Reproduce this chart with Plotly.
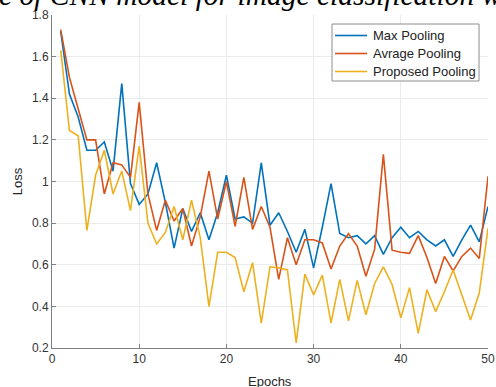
import plotly.graph_objects as go

epochs = list(range(1, 51))

max_pooling = [1.72, 1.42, 1.31, 1.15, 1.15, 1.19, 1.05, 1.47, 0.99, 0.89,
               0.94, 1.09, 0.90, 0.68, 0.87, 0.76, 0.85, 0.72, 0.85, 1.03,
               0.82, 0.83, 0.80, 1.09, 0.79, 0.85, 0.76, 0.66, 0.77, 0.585,
               0.78, 0.99, 0.75, 0.73, 0.74, 0.70, 0.74, 0.65, 0.73, 0.78,
               0.73, 0.76, 0.72, 0.69, 0.72, 0.64, 0.72, 0.79, 0.71, 0.88]

avg_pooling = [1.73, 1.50, 1.35, 1.20, 1.20, 0.94, 1.09, 1.08, 1.02, 1.38,
               0.94, 0.765, 0.91, 0.81, 0.87, 0.69, 0.83, 1.05, 0.82, 1.00,
               0.785, 1.02, 0.77, 0.88, 0.78, 0.53, 0.73, 0.60, 0.72, 0.72,
               0.705, 0.58, 0.69, 0.75, 0.69, 0.545, 0.675, 1.13, 0.67, 0.66,
               0.655, 0.74, 0.635, 0.51, 0.64, 0.57, 0.64, 0.68, 0.63, 1.025]

proposed_pooling = [1.63, 1.245, 1.22, 0.765, 1.03, 1.15, 0.94, 1.05, 0.86, 1.17,
                    0.80, 0.70, 0.755, 0.88, 0.72, 0.91, 0.73, 0.40, 0.66, 0.66,
                    0.635, 0.47, 0.61, 0.32, 0.59, 0.585, 0.575, 0.225, 0.555, 0.455,
                    0.55, 0.32, 0.53, 0.33, 0.525, 0.36, 0.51, 0.59, 0.505, 0.345,
                    0.49, 0.27, 0.48, 0.375, 0.47, 0.575, 0.455, 0.335, 0.465, 0.775]

series_names = ["Max Pooling", "Avrage Pooling", "Proposed Pooling"]
series_colors = ["#0072BD", "#D95319", "#EDB120"]

y_ticks = [0.2, 0.4, 0.6, 0.8, 1.0, 1.2, 1.4, 1.6, 1.8]
y_tick_labels = ["0.2", "0.4", "0.6", "0.8", "1", "1.2", "1.4", "1.6", "1.8"]
x_ticks = [0, 10, 20, 30, 40, 50]

title_text = "e of CNN model for image classification w"

W, H = 496, 387
ML, MR, MT, MB = 52, 8, 15, 39
PW, PH = W - ML - MR, H - MT - MB


def px_x(p):
    return (p - ML) / PW


def px_y(p):
    return (H - MB - p) / PH


fig = go.Figure()
for name, vals, col in zip(series_names, [max_pooling, avg_pooling, proposed_pooling], series_colors):
    fig.add_trace(go.Scatter(x=epochs, y=vals, mode="lines", name=name,
                             line=dict(color=col, width=1.6), showlegend=False,
                             hoverinfo="skip"))

axis_font = dict(family="Liberation Sans, Arial, sans-serif", size=12, color="#333333")
sans = "Liberation Sans, Arial, sans-serif"

shapes = [dict(type="rect", xref="paper", yref="paper",
               x0=px_x(332), x1=px_x(479), y0=px_y(81), y1=px_y(24),
               line=dict(color="#8c8c8c", width=1), fillcolor="white", layer="above")]
annotations = [
    dict(text="Epochs", xref="paper", yref="paper", x=0.5, y=px_y(381.5),
         xanchor="center", yanchor="middle", showarrow=False,
         font=dict(family=sans, size=13, color="#262626")),
    dict(text="Loss", xref="paper", yref="paper", x=px_x(17.7), y=0.5,
         xanchor="center", yanchor="middle", showarrow=False, textangle=-90,
         font=dict(family=sans, size=13, color="#262626")),
    dict(text="<i>" + title_text + "</i>", xref="paper", yref="paper", x=px_x(250), y=1.0,
         xanchor="center", yanchor="bottom", yshift=2, showarrow=False,
         font=dict(family="Liberation Serif, Times New Roman, serif", size=29.5, color="#000000")),
]
for i, (name, col) in enumerate(zip(series_names, series_colors)):
    yc = 35.5 + 18 * i
    shapes.append(dict(type="line", xref="paper", yref="paper",
                       x0=px_x(335), x1=px_x(367), y0=px_y(yc), y1=px_y(yc),
                       line=dict(color=col, width=1.6), layer="above"))
    annotations.append(dict(text=name, xref="paper", yref="paper",
                            x=px_x(370.5), y=px_y(yc), xanchor="left", yanchor="middle",
                            showarrow=False,
                            font=dict(family=sans, size=13, color="#222222")))

fig.update_layout(
    width=W, height=H,
    margin=dict(l=ML, r=MR, t=MT, b=MB, autoexpand=False),
    paper_bgcolor="white", plot_bgcolor="white",
    font=axis_font,
    showlegend=False,
    hovermode=False,
    xaxis=dict(range=[0, 50], tickvals=x_ticks, showgrid=True, gridcolor="#ebebeb",
               showline=True, linecolor="#808080", linewidth=1, ticks="inside",
               ticklen=4, tickcolor="#808080", zeroline=False, mirror=False,
               tickfont=axis_font, automargin=False),
    yaxis=dict(range=[0.2, 1.8], tickvals=y_ticks, ticktext=y_tick_labels,
               showgrid=True, gridcolor="#ebebeb",
               showline=True, linecolor="#808080", linewidth=1, ticks="inside",
               ticklen=4, tickcolor="#808080", zeroline=False, mirror=False,
               tickfont=axis_font, automargin=False),
    shapes=shapes,
    annotations=annotations,
)

fig.write_html("out.html", config={"displayModeBar": False},
               post_script="document.body.style.margin='0';document.body.style.padding='0';")
